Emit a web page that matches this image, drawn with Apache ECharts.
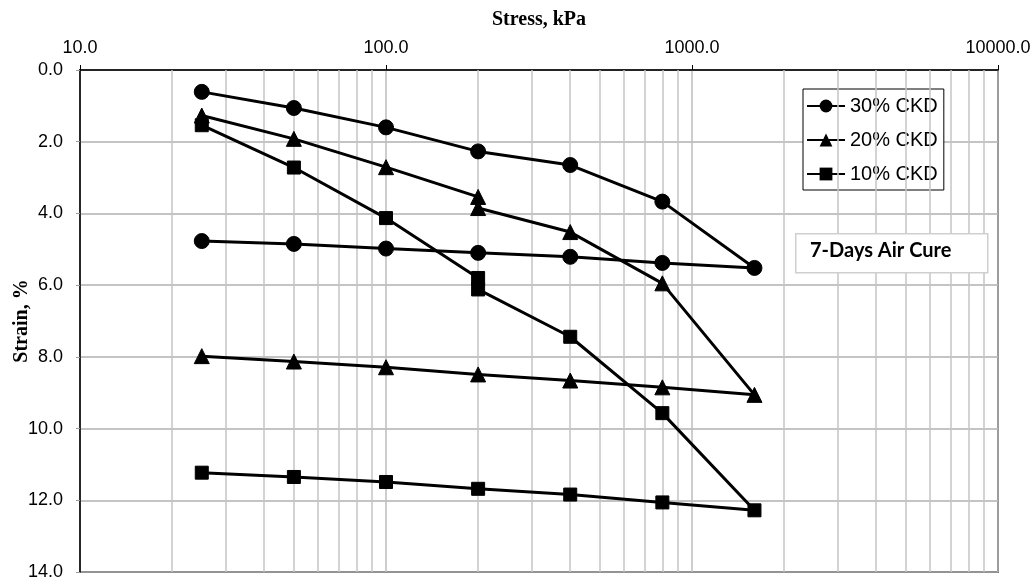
<!DOCTYPE html>
<html>
<head>
<meta charset="utf-8">
<script src="https://cdn.jsdelivr.net/npm/echarts@6/dist/echarts.min.js"></script>
<style>html,body{margin:0;padding:0;background:#fff}#c{width:1035px;height:583px}</style>
</head>
<body>
<div id="c"></div>
<script>
// Stress (kPa): loading path, then unloading path back to the start
const stressLoad30 = [25, 50, 100, 200, 400, 800, 1600];
const strainLoad30 = [0.61, 1.06, 1.60, 2.27, 2.65, 3.67, 5.52];
const stressUnload30 = [800, 400, 200, 100, 50, 25];
const strainUnload30 = [5.38, 5.21, 5.10, 4.98, 4.85, 4.77];

const stressLoad20 = [25, 50, 100, 200, 200, 400, 800, 1600];
const strainLoad20 = [1.27, 1.92, 2.71, 3.54, 3.85, 4.52, 5.95, 9.06];
const stressUnload20 = [800, 400, 200, 100, 50, 25];
const strainUnload20 = [8.85, 8.66, 8.49, 8.29, 8.13, 7.98];

const stressLoad10 = [25, 50, 100, 200, 200, 400, 800, 1600];
const strainLoad10 = [1.54, 2.72, 4.13, 5.80, 6.12, 7.44, 9.57, 12.28];
const stressUnload10 = [800, 400, 200, 100, 50, 25];
const strainUnload10 = [12.06, 11.84, 11.68, 11.49, 11.35, 11.23];

const seriesNames = ['30% CKD', '20% CKD', '10% CKD'];
const xMinorGrid = [20, 30, 40, 50, 60, 70, 80, 90, 200, 300, 400, 500, 600, 700, 800, 900, 2000, 3000, 4000, 5000, 6000, 7000, 8000, 9000];

function pairs(xs, ys) { return xs.map((x, i) => [x, ys[i]]); }
const data30 = pairs(stressLoad30, strainLoad30).concat(pairs(stressUnload30, strainUnload30));
const data20 = pairs(stressLoad20, strainLoad20).concat(pairs(stressUnload20, strainUnload20));
const data10 = pairs(stressLoad10, strainLoad10).concat(pairs(stressUnload10, strainUnload10));

const chart = echarts.init(document.getElementById('c'), null, {renderer: 'canvas'});
const lineW = 3;
function mkSeries(name, data, symbol, size) {
  return {
    name: name, type: 'line', data: data, symbol: symbol, symbolSize: size,
    showAllSymbol: true, z: 5,
    lineStyle: {color: '#000', width: lineW},
    itemStyle: {color: '#000', borderColor: '#000'},
    emphasis: {disabled: true}, animation: false
  };
}
const option = {
  animation: false,
  backgroundColor: '#fff',
  grid: {left: 80, top: 70, right: 37, bottom: 11, containLabel: false, outerBoundsMode: 'none',
    show: true, borderColor: '#000', borderWidth: 1.5, backgroundColor: 'transparent'},
  xAxis: {
    type: 'log', logBase: 10, min: 10, max: 10000, position: 'top',
    name: 'Stress, kPa', nameLocation: 'middle', nameGap: 40,
    nameTextStyle: {fontFamily: 'Liberation Serif', fontWeight: 'bold', fontSize: 20, color: '#000'},
    axisLine: {show: true, lineStyle: {color: '#000', width: 1.5}},
    axisTick: {show: true, length: 5, lineStyle: {color: '#000'}},
    axisLabel: {fontFamily: 'Liberation Sans', fontSize: 18, color: '#000', margin: 13,
      formatter: v => Number(v).toFixed(1)},
    splitLine: {show: true, lineStyle: {color: '#bdbdbd', width: 1.5}}
  },
  yAxis: {
    type: 'value', inverse: true, min: 0, max: 14, interval: 2,
    name: 'Strain, %', nameLocation: 'middle', nameGap: 48, nameRotate: 90, nameMoveOverlap: false,
    nameTextStyle: {fontFamily: 'Liberation Serif', fontWeight: 'bold', fontSize: 20, color: '#000'},
    axisLine: {show: true, lineStyle: {color: '#000', width: 1.5}},
    axisTick: {show: true, length: 4, lineStyle: {color: '#999'}},
    axisLabel: {fontFamily: 'Liberation Sans', fontSize: 18, color: '#000', margin: 17,
      formatter: v => Number(v).toFixed(1)},
    splitLine: {show: true, lineStyle: {color: '#b0b0b0', width: 1.5}}
  },
  legend: {
    orient: 'vertical', left: 803, top: 89,
    data: seriesNames,
    backgroundColor: '#fff', borderColor: '#000', borderWidth: 1,
    padding: [7, 6, 6, 3], itemGap: 14, itemWidth: 38, itemHeight: 16,
    textStyle: {fontFamily: 'Liberation Sans', fontSize: 20, color: '#000'},
    selectedMode: false
  },
  graphic: [
    {type: 'rect', left: 795, top: 233, z: 10,
     shape: {width: 192, height: 39},
     style: {fill: '#fff', stroke: '#cfcfcf', lineWidth: 1.5}},
    {type: 'text', left: 810, top: 241, z: 11,
     style: {text: '7-Days Air Cure', font: 'bold 20px Lato, "Open Sans", sans-serif', fill: '#000'}}
  ],
  series: [
    {
      name: 'minor', type: 'line', data: [], silent: true, z: 1,
      markLine: {
        silent: true, symbol: 'none', animation: false,
        label: {show: false},
        lineStyle: {color: '#c4c4c4', width: 1.5, type: 'solid'},
        emphasis: {disabled: true},
        data: xMinorGrid.map(v => ({xAxis: v}))
      }
    },
    mkSeries(seriesNames[0], data30, 'circle', 15),
    mkSeries(seriesNames[1], data20, 'triangle', 15),
    mkSeries(seriesNames[2], data10, 'rect', 13)
  ]
};
chart.setOption(option);
</script>
</body>
</html>
